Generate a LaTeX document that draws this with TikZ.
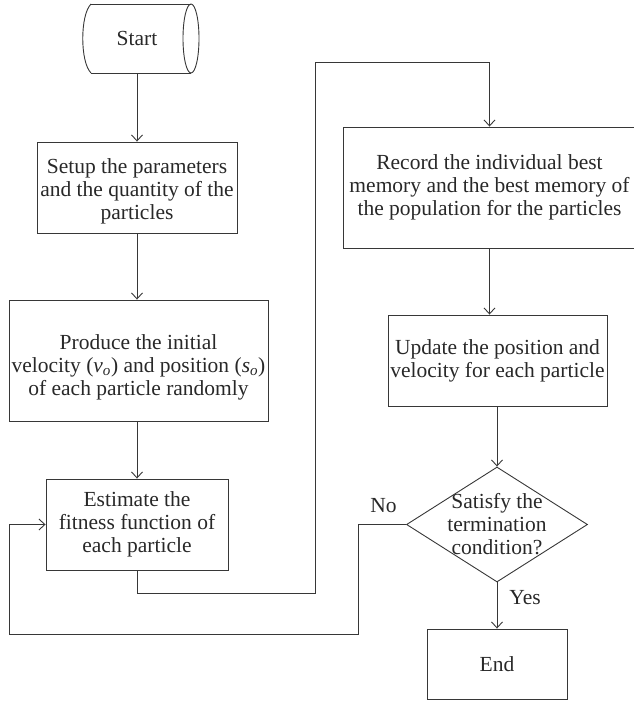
\documentclass[tikz,border=0pt]{standalone}
\usepackage{fontspec}
\setmainfont{Liberation Serif}
\usetikzlibrary{arrows.meta,shapes.geometric}
\definecolor{ink}{RGB}{40,40,40}
\definecolor{edge}{RGB}{55,55,55}
\newcommand{\subv}[2]{\textit{#1}\textsubscript{\textit{#2}}}
\begin{document}
\begin{tikzpicture}[x=1pt,y=-1pt,
  every node/.style={font=\fontsize{21.5}{23}\selectfont, text=ink},
  box/.style={draw=edge, line width=0.9pt, rectangle, inner sep=0pt, align=center},
  txt/.style={inner sep=0pt, align=center},
  ln/.style={draw=edge, line width=0.9pt},
  arr/.style={draw=edge, line width=0.9pt, -{Straight Barb[length=6pt,width=11pt]}},
  lbl/.style={inner sep=0pt}]
\useasboundingbox (0,0) rectangle (634,701);

% Start terminal
\node[inner sep=0pt, minimum width=116pt, minimum height=69pt] (start) at (137,38.5) {Start};
\draw[ln] (91,4) -- (191,4);
\draw[ln] (91,73) -- (191,73);
\draw[ln] (91,4) .. controls (80,15) and (80,62) .. (91,73);
\draw[ln] (191,38.5) ellipse [x radius=8pt, y radius=34.5pt];

\node[box, minimum width=200pt, minimum height=91pt] (setup) at (137,187.5) {};
\node[txt] (setuptext) at (137,191)
  {Setup the parameters\\and the quantity of the\\particles};
\node[box, minimum width=259pt, minimum height=121pt] (produce) at (138.5,360.5) {};
\node[txt] (producetext) at (138.5,367)
  {Produce the initial\\velocity (\subv{v}{o}) and position (\subv{s}{o})\\of each particle randomly};
\node[box, minimum width=182pt, minimum height=91pt] (estimate) at (137,524.5)
  {Estimate the\\fitness function of\\each particle};
\node[box, minimum width=293pt, minimum height=121pt] (record) at (489.5,187.5)
  {Record the individual best\\memory and the best memory of\\the population for the particles};
\node[box, minimum width=219pt, minimum height=91pt] (update) at (497.5,360.5)
  {Update the position and\\velocity for each particle};
\node[draw=edge, line width=0.9pt, diamond, minimum width=181pt, minimum height=115pt, inner sep=0pt] (dec) at (497,524.5) {};
\node[txt] (dectext) at (dec.center) {Satisfy the\\termination\\condition?};
\node[box, minimum width=140pt, minimum height=70pt] (end) at (497,664) {End};

\node[lbl] (nolbl) at (383.5,506) {No};

\coordinate (topbend) at (315,62);
\coordinate (nobend) at (358,634);
\coordinate (leftbend) at (9,634);

\draw[arr] (start.south) -- (setup.north);
\draw[arr] (setup.south) -- (setup.south |- produce.north);
\draw[arr] (estimate.north |- produce.south) -- (estimate.north);
\draw[arr] (estimate.south) -- ++(0,23) -| (topbend) -| (record.north);
\draw[arr] (record.south) -- (record.south |- update.north);
\draw[arr] (dec.north |- update.south) -- (dec.north);
\draw[arr] (dec.south) -- (end.north) node[lbl, pos=0.32, right=12pt] (yeslbl) {Yes};
\draw[arr] (dec.west) -| (nobend) -- (leftbend) |- (estimate.west);
\end{tikzpicture}
\end{document}
